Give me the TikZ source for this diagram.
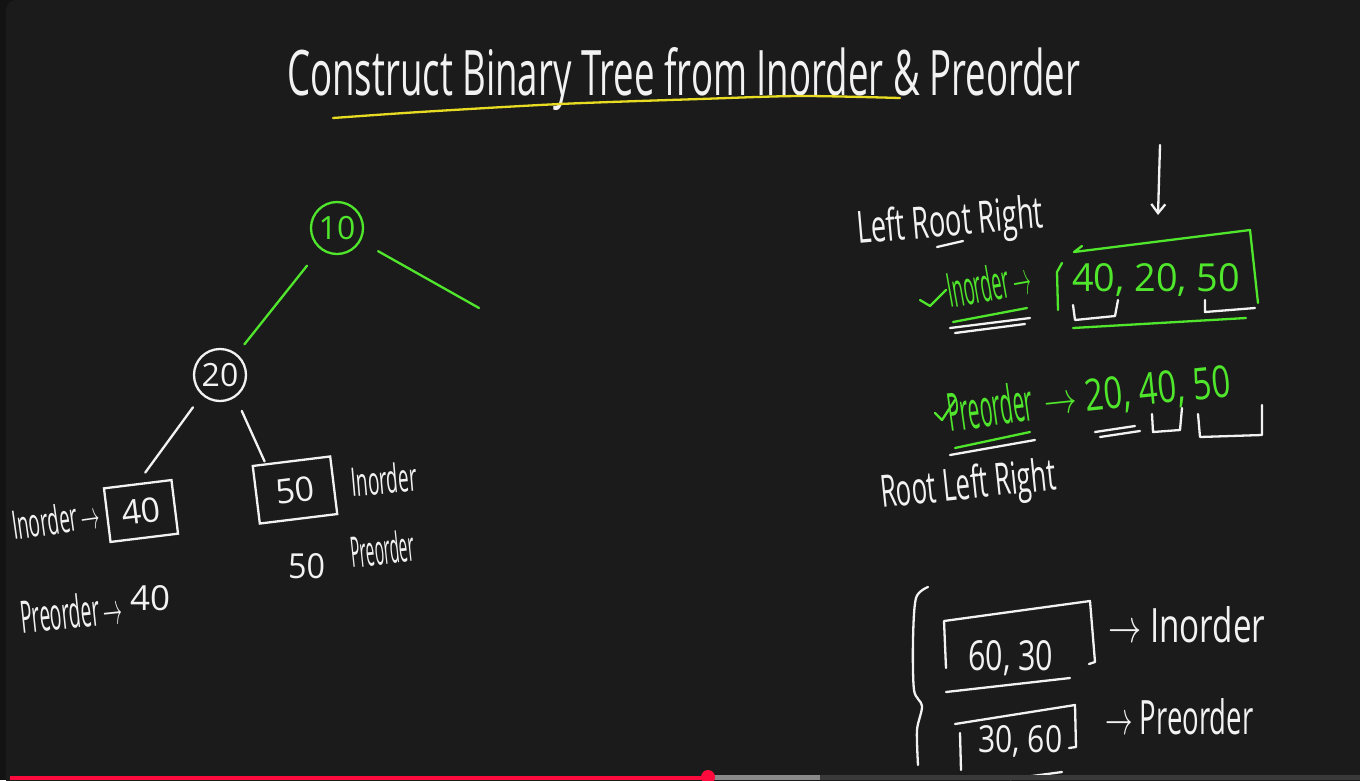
\documentclass[tikz,border=0pt]{standalone}
\usepackage{fontspec}
\setmainfont{Open Sans}
\usetikzlibrary{arrows.meta,calc}
\definecolor{bg}{HTML}{1C1B1C}
\definecolor{bgout}{HTML}{131313}
\definecolor{chalk}{HTML}{F2F2F2}
\definecolor{lime}{HTML}{4FE62C}
\definecolor{yel}{HTML}{E8DC22}
\definecolor{barred}{HTML}{FF0A3C}
\definecolor{bargray}{HTML}{8A8A8A}
\definecolor{bardark}{HTML}{3A3A3A}
\newcommand{\hw}[3]{\resizebox{#1pt}{#2pt}{#3}}
\tikzset{
  stroke/.style={line width=2.3pt, line cap=round, line join=round, draw=chalk},
  gstroke/.style={stroke, draw=lime},
  lbl/.style={text=chalk, inner sep=0pt, anchor=base west},
  glbl/.style={lbl, text=lime},
  treenode/.style={circle, draw=chalk, line width=2.3pt, minimum size=52pt, inner sep=0pt, text=chalk, font=\fontsize{32}{32}\selectfont},
  leafbox/.style={rectangle, draw=chalk, line width=2.3pt, inner sep=0pt, text=chalk, font=\fontsize{34}{34}\selectfont},
}
\begin{document}
\begin{tikzpicture}[x=1pt, y=-1pt]
\useasboundingbox (0,0) rectangle (1360,780);
% background
\fill[bgout] (0,0) rectangle (1360,780);
\fill[bg, rounded corners=10pt] (6,0) rectangle (1375,795);

% title
\node[lbl] (title) at (287,95) {\hw{793}{48}{Construct Binary Tree from Inorder \& Preorder}};
\draw[stroke, draw=yel] plot[smooth] coordinates {(333,118) (420,112) (560,104) (700,99) (800,96) (900,98)};

% tree
\node[treenode, draw=lime, text=lime] (n10) at (337,228) {10};
\node[treenode] (n20) at (220,375) {20};
\coordinate (rfree) at (479,308);
\draw[gstroke, shorten <=20pt] (n10) -- (rfree);
\draw[gstroke, shorten <=21pt, shorten >=12pt] (n10) -- (n20);
\node[leafbox, minimum width=68pt, minimum height=54pt, rotate=7] (b40) at (141,511) {40};
\node[leafbox, minimum width=78pt, minimum height=58pt, rotate=7] (b50) at (295,490) {50};
\draw[stroke, shorten <=15pt, shorten >=13pt] (n20.228) -- (b40.north);
\draw[stroke, shorten <=15pt, shorten >=2pt] (n20.305) -- ($(b50.north west)!0.35!(b50.north)$);

% labels around leaves
\node[lbl, rotate=8] (in40) at (14,540) {\hw{88}{30}{Inorder\,$\to$}};
\node[lbl, rotate=6] (pre40) at (22,634) {\hw{102}{34}{Preorder\,$\to$}};
\node[lbl] (v40) at (130,610) {\hw{40}{25}{40}};
\node[lbl, rotate=5] (in50) at (352,497) {\hw{66}{30}{Inorder}};
\node[lbl] (v50) at (288,578) {\hw{37}{25}{50}};
\node[lbl, rotate=6] (pre50) at (352,568) {\hw{64}{32}{Preorder}};

% Left Root Right
\node[lbl, rotate=5] (lrr) at (858,244) {\hw{187}{34}{Left Root Right}};
\draw[stroke] (937,247) -- (963,241);
\coordinate (arrtop) at (1160,145);
\coordinate (arrbot) at (1158,215);
\draw[stroke, -{Straight Barb[length=9pt,width=14pt]}] (arrtop) -- (arrbot);

% Inorder green
\draw[gstroke] (920,300) -- (930,306) -- (946,290);
\node[glbl, rotate=10] (inG) at (950,308) {\hw{84}{36}{Inorder\,$\to$}};
\draw[gstroke] (953,322) -- (1027,308);
\draw[stroke] (950,328) -- (1030,318);
\draw[stroke] (955,333) -- (1025,324);
\draw[gstroke] (1062,263) -- (1057,272) -- (1058,310);
\draw[gstroke] (1082,246) -- (1074,252) -- (1250,230) -- (1258,303);
\draw[gstroke] (1073,328) -- (1246,318);
\node[glbl] (inarr) at (1072,291) {\hw{168}{28}{40, 20, 50}};
\draw[stroke] (1073,305) -- (1075,320) -- (1115,316) -- (1118,300);
\draw[stroke] (1205,300) -- (1205,312) -- (1255,308);

% Preorder green
\draw[gstroke] (935,413) -- (942,420) -- (955,400);
\node[glbl, rotate=8] (preG) at (950,432) {\hw{86}{40}{Preorder}};
\node[glbl, rotate=6] (prearr) at (1045,416) {\hw{188}{32}{$\to$ 20, 40, 50}};
\draw[gstroke] (955,448) -- (1030,432);
\draw[stroke] (950,455) -- (1035,440);
\draw[stroke] (1095,432) -- (1135,426);
\draw[stroke] (1100,437) -- (1140,431);
\draw[stroke] (1152,414) -- (1153,432) -- (1180,430) -- (1182,408);
\draw[stroke] (1198,414) -- (1200,437) -- (1262,435) -- (1262,405);

\node[lbl, rotate=6] (rlr) at (882,508) {\hw{176}{34}{Root Left Right}};

% bottom right
\draw[stroke] plot[smooth] coordinates {(928,587) (916,598) (913,640) (914,690) (922,706) (917,730) (918,765)};
\draw[stroke] (946,668) -- (944,621) -- (1090,601) -- (1095,662) -- (1089,664);
\draw[stroke] (946,692) -- (1070,678);
\node[lbl] (v6030) at (968,670) {\hw{85}{30}{60, 30}};
\node[lbl] (inB) at (1108,642) {\hw{157}{36}{$\to$ Inorder}};
\draw[stroke] (960,733) -- (961,770);
\draw[stroke] (955,724) -- (1075,705) -- (1076,747) -- (1069,748);
\draw[stroke] (1010,779) -- (1062,772);
\node[lbl] (v3060) at (978,752) {\hw{84}{27}{30, 60}};
\node[lbl] (preB) at (1105,734) {\hw{148}{36}{$\to$ Preorder}};

% video progress bar
\fill[bardark] (820,775) rectangle (1360,780);
\fill[bargray] (708,775) rectangle (820,780);
\fill[barred] (10,776) rectangle (708,780);
\fill[barred] (708,777) circle (7pt);
\end{tikzpicture}
\end{document}
